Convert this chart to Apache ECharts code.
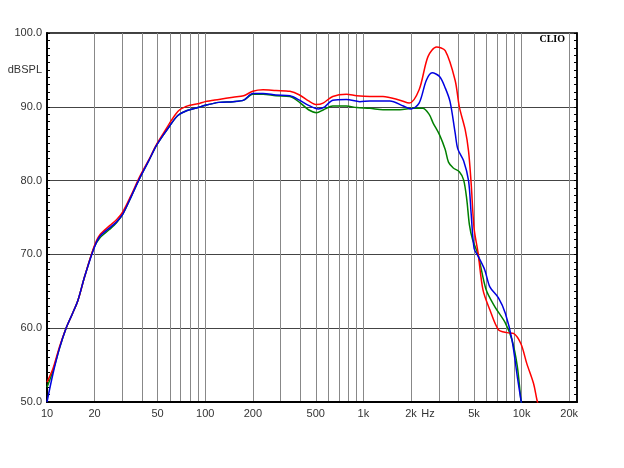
<!DOCTYPE html>
<html>
<head>
<meta charset="utf-8">
<script src="https://cdn.jsdelivr.net/npm/echarts@6/dist/echarts.min.js"></script>
<style>html,body{margin:0;padding:0;background:#fff}#chart{width:624px;height:468px}</style>
</head>
<body>
<div id="chart"></div>
<script>
// Frequencies (Hz) and SPL (dB) per curve
const freqRed = [10,10.9,12,13.2,14.5,15.7,17.3,19.8,21.5,24.9,27.5,30.2,34,38.5,44,49,54,59.6,65,69,75,80,90,100,122,150,175,200,232,280,343,395,450,506,556,640,781,907,1100,1330,1700,1950,2250,2560,2900,3290,3800,4040,4400,4620,4800,5010,5300,5700,6300,7140,8100,8880,9900,10790,11900,12500,12800];
const splRed  = [52.7,54.5,57.5,60,62,63.8,67,71,72.6,73.9,74.7,75.8,78,80.5,82.8,84.8,86.3,87.8,89,89.6,90,90.2,90.4,90.7,91.0,91.3,91.5,92.1,92.3,92.2,92.1,91.6,90.8,90.3,90.5,91.4,91.7,91.5,91.4,91.4,90.9,90.5,92.3,96.8,98.1,97.6,93.6,90.0,86.9,84.0,79.6,73.5,70.3,65.2,62.5,59.8,59.4,59.3,57.9,55.2,52.5,50.3,49.5];

const freqBlue = [10,10.9,12,13.2,14.5,15.7,17.3,19.8,21.5,24.9,27.5,30.2,34,38.5,44,49,54,59.6,65,69,75,80,90,100,122,150,175,200,232,280,343,395,450,518,570,640,781,950,1100,1470,1790,2000,2250,2500,2720,3030,3300,3530,3800,3950,4300,4620,4800,5010,5300,5850,6300,7140,7900,8700,9400,9900,10100];
const splBlue  = [50.0,53.8,57.3,60,62,63.8,67,70.8,72.4,73.6,74.4,75.5,77.8,80.3,82.7,84.7,86.1,87.4,88.5,89.0,89.4,89.6,89.9,90.2,90.6,90.7,90.9,91.8,91.8,91.6,91.5,90.9,90.2,89.7,90.0,90.9,91.0,90.7,90.8,90.8,90.1,89.7,90.5,93.6,94.6,94.1,92.5,90.7,86.5,84.3,82.7,80.0,75.5,70.8,69.8,67.9,65.6,64.1,62.0,58.4,53.4,50.3,49.0];

const freqGreen = [10,10.9,12,13.2,14.5,15.7,17.3,19.8,21.5,24.9,27.5,30.2,34,38.5,44,49,54,59.6,65,69,75,80,90,100,122,150,175,200,232,280,343,395,450,506,560,640,781,907,1100,1330,1700,2050,2370,2600,2760,3030,3290,3450,3700,4040,4300,4500,4680,4900,5300,5970,6780,7900,8700,9400,9900,10100];
const splGreen  = [52,54.2,57.3,60,62,63.8,67,70.9,72.2,73.4,74.3,75.5,77.8,80.3,82.7,84.7,86.1,87.4,88.5,89.0,89.4,89.6,89.9,90.2,90.6,90.7,90.9,91.7,91.7,91.5,91.4,90.6,89.6,89.2,89.6,90.1,90.1,89.9,89.8,89.6,89.6,89.8,89.8,89.0,87.8,86.2,84.2,82.5,81.7,81.2,80.1,77.5,74.0,72.0,70.0,65.2,62.9,60.7,58.4,54.8,50.3,49.0];

// Axis ticks / labels
const xGridValues = [10,20,30,40,50,60,70,80,90,100,200,300,400,500,600,700,800,900,1000,2000,3000,4000,5000,6000,7000,8000,9000,10000,20000];
const xLabelValues = [10,20,50,100,200,500,1000,2000,2560,5000,10000,20000];
const yLabelValues = [50,60,70,80,90,95,100];

function pairs(f, s) { return f.map((v, i) => [v, s[i]]); }

function xFmt(v) {
  const r = Math.round(v);
  if (Math.abs(r - 2560) < 5) return 'Hz';
  if (r >= 1000) return (r / 1000) + 'k';
  return String(r);
}

const chart = echarts.init(document.getElementById('chart'), null, {renderer: 'canvas'});
const labelStyle = {color: '#333', fontFamily: 'Liberation Sans, Arial, sans-serif', fontSize: 11};

chart.setOption({
  animation: false,
  backgroundColor: '#fff',
  grid: {left: 47, right: 47, top: 33, bottom: 66, show: true, borderColor: '#000', borderWidth: 1.5, containLabel: false},
  xAxis: {
    type: 'log', logBase: 10, min: 10, max: 22400,
    axisLine: {show: true, lineStyle: {color: '#000', width: 2}},
    axisTick: {show: false, customValues: xGridValues},
    splitLine: {show: true, lineStyle: {color: '#888', width: 1}},
    minorSplitLine: {show: false},
    axisLabel: Object.assign({customValues: xLabelValues, formatter: xFmt, margin: 6, showMinLabel: true, showMaxLabel: true}, labelStyle)
  },
  yAxis: [{
    type: 'value', min: 50, max: 100, interval: 10, position: 'left',
    axisLine: {show: true, lineStyle: {color: '#000', width: 2}},
    axisTick: {show: true, inside: true, length: 3, lineStyle: {color: '#000'}},
    minorTick: {show: true, splitNumber: 10, length: 3, lineStyle: {color: '#000'}},
    splitLine: {show: true, lineStyle: {color: '#444', width: 1}},
    axisLabel: Object.assign({customValues: yLabelValues, margin: 5, formatter: v => (Math.round(v) === 95 ? 'dBSPL' : v.toFixed(1))}, labelStyle)
  }, {
    type: 'value', min: 50, max: 100, interval: 10, position: 'right',
    axisLine: {show: true, lineStyle: {color: '#000', width: 1.5}},
    axisTick: {show: true, inside: true, length: 3, lineStyle: {color: '#000'}},
    minorTick: {show: true, splitNumber: 10, length: 3, lineStyle: {color: '#000'}},
    splitLine: {show: false},
    axisLabel: {show: false}
  }],
  graphic: [{
    type: 'text', right: 59, top: 34,
    style: {text: 'CLIO', fill: '#000', font: 'bold 10px "Liberation Serif", "DejaVu Serif", serif'}
  }],
  series: [
    {name: 'green', type: 'line', data: pairs(freqGreen, splGreen), smooth: 0.3, showSymbol: false, clip: true, lineStyle: {color: '#008000', width: 1.5}},
    {name: 'red', type: 'line', data: pairs(freqRed, splRed), smooth: 0.3, showSymbol: false, clip: true, lineStyle: {color: '#ff0000', width: 1.5}},
    {name: 'blue', type: 'line', data: pairs(freqBlue, splBlue), smooth: 0.3, showSymbol: false, clip: true, lineStyle: {color: '#0000e0', width: 1.5}}
  ]
});
</script>
</body>
</html>
